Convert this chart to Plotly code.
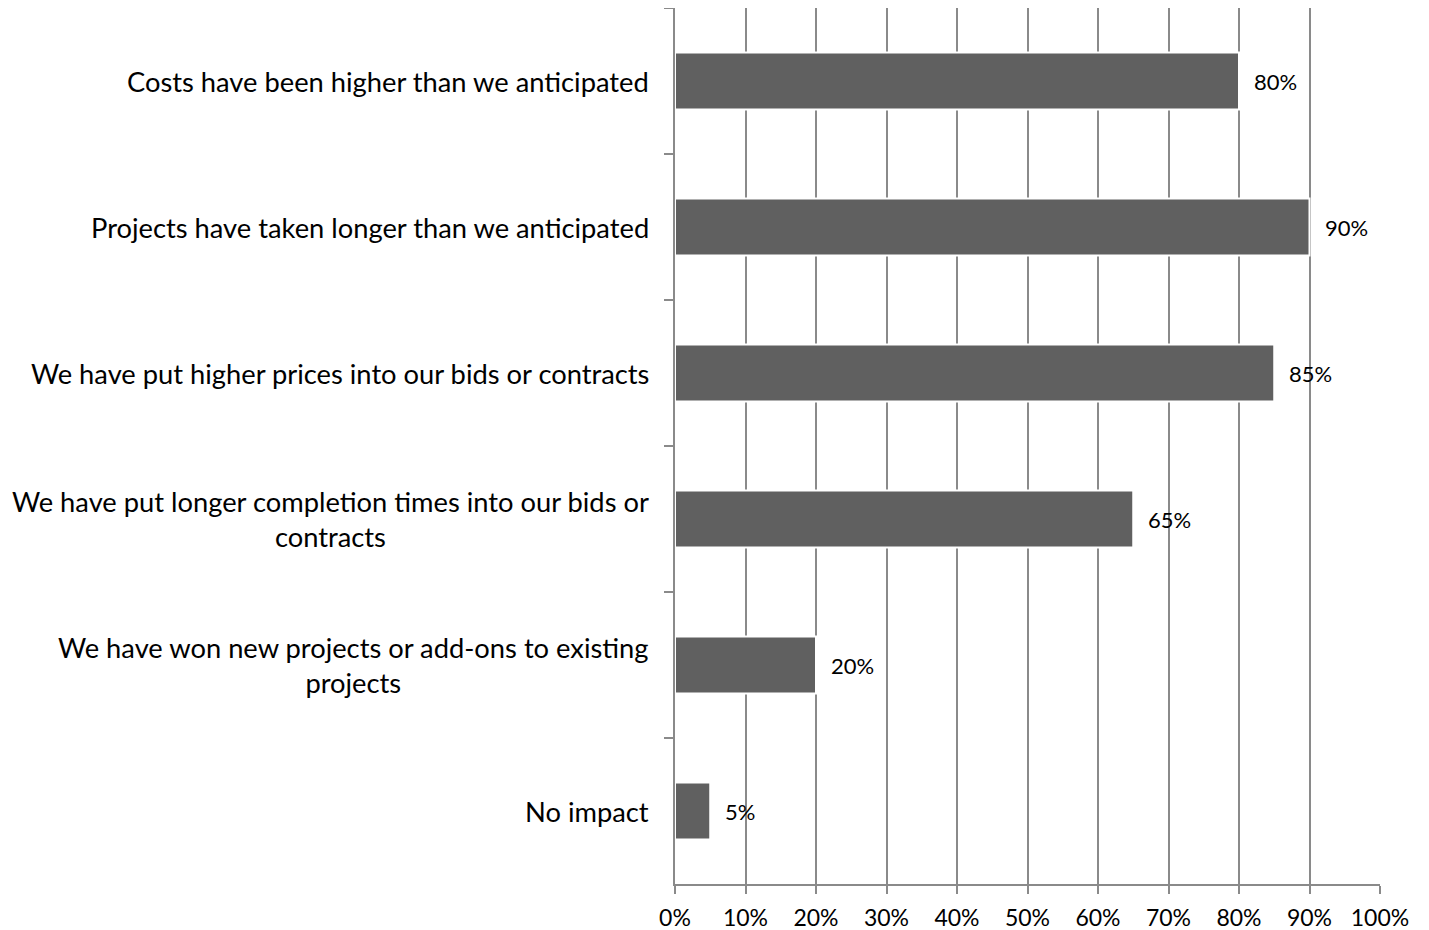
import plotly.graph_objects as go

categories = [
    "Costs have been higher than we anticipated",
    "Projects have taken longer than we anticipated",
    "We have put higher prices into our bids or contracts",
    "We have put longer completion times into our bids or<br>contracts",
    "We have won new projects or add-ons to existing<br>projects",
    "No impact",
]
values = [80, 90, 85, 65, 20, 5]
value_labels = [f"{v}%" for v in values]
tick_vals = [0, 10, 20, 30, 40, 50, 60, 70, 80, 90, 100]
tick_text = [f"{v}%" for v in tick_vals]

FONT = "Lato"
GRID = "#8a8a8a"

fig = go.Figure()
fig.add_trace(go.Bar(
    y=categories, x=values, orientation="h",
    marker=dict(color="#606060", line=dict(color="white", width=2)),
    width=0.39, hoverinfo="x+y",
))

for c, v, t in zip(categories, values, value_labels):
    fig.add_annotation(
        x=v, y=c, xref="x", yref="y", text=t, showarrow=False,
        xanchor="left", xshift=13,
        font=dict(family=FONT, size=22, color="black"),
    )
    fig.add_annotation(
        x=0, y=c, xref="paper", yref="y", text=c, showarrow=False,
        xanchor="right", align="center", xshift=-24,
        font=dict(family=FONT, size=27.3, color="black"),
    )

fig.update_layout(
    width=1429, height=930,
    margin=dict(l=667, r=57, t=0, b=54),
    plot_bgcolor="white", paper_bgcolor="white",
    showlegend=False,
    font=dict(family=FONT, color="black"),
)
fig.update_xaxes(
    range=[0, 100], tickvals=tick_vals, ticktext=tick_text,
    showgrid=True, gridcolor=GRID, gridwidth=2,
    showline=True, linecolor=GRID, linewidth=2,
    ticks="outside", ticklen=8, tickcolor=GRID, tickwidth=2,
    ticklabelstandoff=4,
    tickfont=dict(family=FONT, size=23, color="black"),
    zeroline=False, fixedrange=True,
)
fig.update_yaxes(
    autorange="reversed", showticklabels=False,
    showline=True, linecolor=GRID, linewidth=2,
    ticks="outside", tickson="boundaries", ticklen=9, tickcolor=GRID, tickwidth=2,
    showgrid=False, zeroline=False, fixedrange=True,
)

fig.write_html("out.html")
